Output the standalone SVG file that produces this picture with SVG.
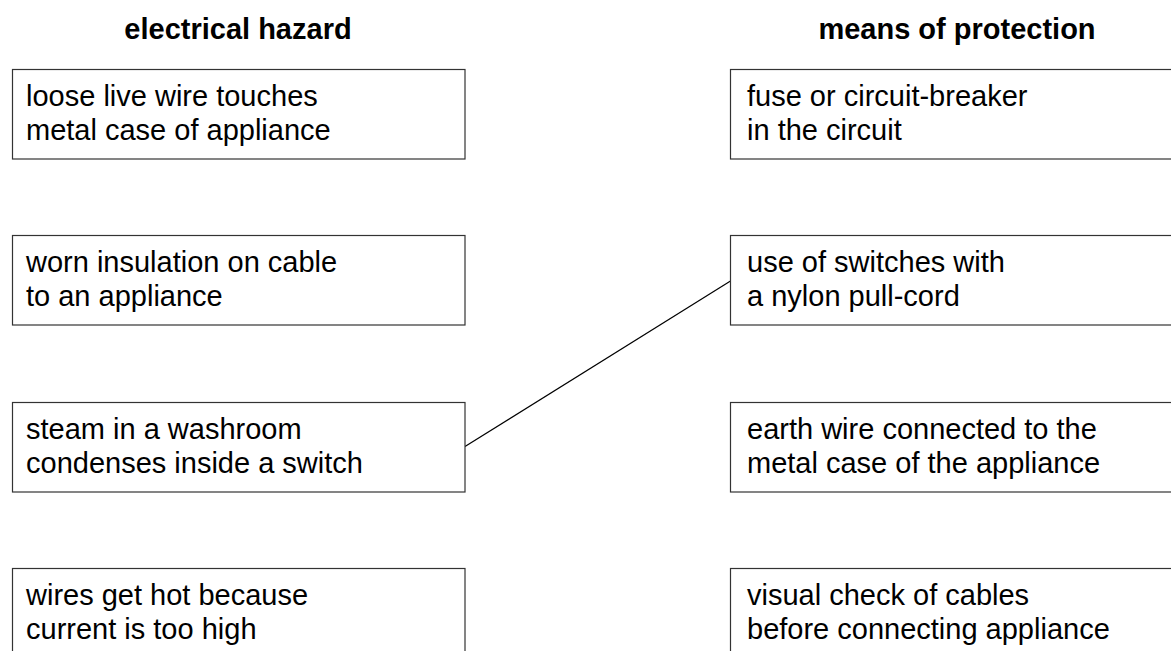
<svg xmlns="http://www.w3.org/2000/svg" width="1171" height="651" viewBox="0 0 1171 651">
<style>
.box{fill:#fff;stroke:#333;stroke-width:1.2}
.t{font-family:"Liberation Sans",Arial,sans-serif;font-size:29px;fill:#000}
.h{font-family:"Liberation Sans",Arial,sans-serif;font-size:29px;font-weight:bold;fill:#000;text-anchor:middle}
.c{stroke:#000;stroke-width:1.2;fill:none}
</style>
<rect width="1171" height="651" fill="#fff"/>
<text class="h" x="238" y="39">electrical hazard</text>
<text class="h" x="957" y="39">means of protection</text>
<g id="connectors">
<line class="c" x1="465" y1="446.5" x2="730.5" y2="281"/>
</g>
<g id="h1"><rect class="box" x="12.5" y="69.5" width="452.5" height="89.5"/><text class="t" x="26" y="106">loose live wire touches</text><text class="t" x="26" y="139.5">metal case of appliance</text></g>
<g id="h2"><rect class="box" x="12.5" y="235.5" width="452.5" height="89.5"/><text class="t" x="26" y="272">worn insulation on cable</text><text class="t" x="26" y="305.5">to an appliance</text></g>
<g id="h3"><rect class="box" x="12.5" y="402.5" width="452.5" height="89.5"/><text class="t" x="26" y="439">steam in a washroom</text><text class="t" x="26" y="472.5">condenses inside a switch</text></g>
<g id="h4"><rect class="box" x="12.5" y="568.5" width="452.5" height="120"/><text class="t" x="26" y="605">wires get hot because</text><text class="t" x="26" y="638.5">current is too high</text></g>
<g id="p1"><rect class="box" x="730.5" y="69.5" width="470" height="89.5"/><text class="t" x="747" y="106">fuse or circuit-breaker</text><text class="t" x="747" y="139.5">in the circuit</text></g>
<g id="p2"><rect class="box" x="730.5" y="235.5" width="470" height="89.5"/><text class="t" x="747" y="272">use of switches with</text><text class="t" x="747" y="305.5">a nylon pull-cord</text></g>
<g id="p3"><rect class="box" x="730.5" y="402.5" width="470" height="89.5"/><text class="t" x="747" y="439">earth wire connected to the</text><text class="t" x="747" y="472.5">metal case of the appliance</text></g>
<g id="p4"><rect class="box" x="730.5" y="568.5" width="470" height="120"/><text class="t" x="747" y="605">visual check of cables</text><text class="t" x="747" y="638.5">before connecting appliance</text></g>
</svg>
